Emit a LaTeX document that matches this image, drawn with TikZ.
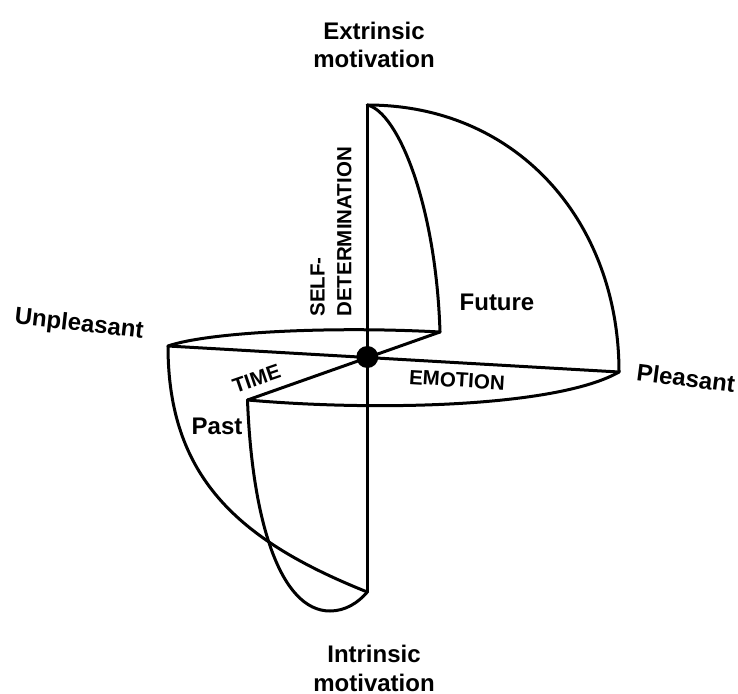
\documentclass[tikz,border=0pt]{standalone}
\usepackage{fontspec}
\setmainfont{Liberation Sans}
\begin{document}
\begin{tikzpicture}[x=1pt,y=-1pt,
  curve/.style={line width=3pt,line cap=round,line join=round},
  biglab/.style={font=\bfseries\fontsize{24}{28.4}\selectfont, inner sep=0pt, align=center},
  caplab/.style={font=\bfseries\fontsize{20.5}{26.6}\selectfont, inner sep=0pt}]
\useasboundingbox (0,0) rectangle (738,693);
\coordinate (O) at (367.3,357);
\coordinate (T) at (367.3,105);
\coordinate (B) at (367.3,592);
\coordinate (U) at (168,346);
\coordinate (P) at (619,372);
\coordinate (F) at (440,332);
\coordinate (Pa) at (247.5,400);
\coordinate (Bot) at (330,611);
% axes
\draw[curve] (T) -- (B);
\draw[curve] (U) -- (P);
\draw[curve] (F) -- (Pa);
% disk arcs
\draw[curve] (U) .. controls (207.8,332.2) and (330,326) .. (F);
\draw[curve] (Pa) .. controls (385,412) and (560,406) .. (P);
% upper arcs
\draw[curve] (T) .. controls (517.5,105) and (619,222) .. (P);
\draw[curve] (T) .. controls (398,112) and (436,205) .. (F);
% lower arcs
\draw[curve] (U) .. controls (168,476) and (237,540) .. (B);
\draw[curve] (Pa) .. controls (252,520) and (280,611) .. (Bot) .. controls (345,611) and (358,603) .. (B);
% centre dot
\node[circle, fill=black, minimum size=22pt, inner sep=0pt] (dot) at (O) {};
% labels
\node[biglab, anchor=north] (ext) at (374,21.7) {Extrinsic\\motivation};
\node[biglab, anchor=north] (int) at (374,645) {Intrinsic\\motivation};
\node[biglab, rotate=-6.5] (unp) at (79,325) {Unpleasant};
\node[biglab, rotate=-7.5] (ple) at (686,378) {Pleasant};
\node[biglab] (fut) at (497,302) {Future};
\node[biglab] (past) at (217,426) {Past};
\node[caplab, rotate=19] (time) at (256.5,378.5) {TIME};
\node[caplab, rotate=-3.5] (emo) at (457,380) {EMOTION};
\node[caplab, rotate=90, anchor=south west, align=left] (sd) at (351.7,316.7) {SELF-\\DETERMINATION};
\end{tikzpicture}
\end{document}
